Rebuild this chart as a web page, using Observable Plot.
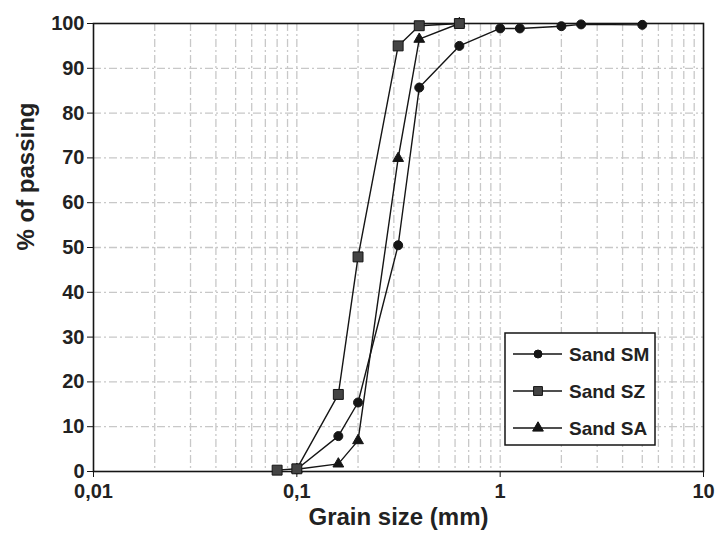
<!DOCTYPE html>
<html><head><meta charset="utf-8">
<script src="https://cdn.jsdelivr.net/npm/d3@7"></script>
<script src="https://cdn.jsdelivr.net/npm/@observablehq/plot@0.6"></script>
<style>
body{margin:0;background:#fff;}
#chart svg{font-family:"Liberation Sans",Arial,Helvetica,sans-serif;}
</style>
</head><body><div id="chart"></div>
<script>
// ---- data ----
const seriesNames = ["Sand SM", "Sand SZ", "Sand SA"];
const smSize = [0.1, 0.16, 0.2, 0.315, 0.4, 0.63, 1.0, 1.25, 2.0, 2.5, 5.0];
const smPass = [0.5, 7.9, 15.4, 50.5, 85.7, 95.0, 98.9, 98.9, 99.4, 99.8, 99.7];
const szSize = [0.08, 0.1, 0.16, 0.2, 0.315, 0.4, 0.63];
const szPass = [0.3, 0.6, 17.2, 47.9, 95.0, 99.5, 100];
const saSize = [0.1, 0.16, 0.2, 0.315, 0.4, 0.63];
const saPass = [0.5, 1.7, 6.9, 69.9, 96.5, 100];
const xTicks = [0.01, 0.1, 1, 10];
const yTicks = [0, 10, 20, 30, 40, 50, 60, 70, 80, 90, 100];
const xTitle = "Grain size (mm)";
const yTitle = "% of passing";

const toRows = (name, sz, ps) => sz.map((s, i) => ({series: name, size: s, pass: ps[i]}));
const sm = toRows(seriesNames[0], smSize, smPass);
const sz = toRows(seriesNames[1], szSize, szPass);
const sa = toRows(seriesNames[2], saSize, saPass);
const rows = [...sm, ...sz, ...sa];

// grid positions: every 1..9 multiple within each decade
const gridX = [];
for (const d of xTicks.slice(0, -1)) for (let k = 1; k <= 9; k++) if (!(d === 0.01 && k === 1)) gridX.push(d * k);
const gridY = yTicks.slice(1, -1);

const ink = "#151515";
const legendMarks = [
  {name: seriesNames[0], symbol: d3.symbolCircle, size: Math.PI * 4 * 4, fill: ink},
  {name: seriesNames[1], symbol: d3.symbolSquare, size: Math.PI * 5 * 5, fill: "#444"},
  {name: seriesNames[2], symbol: d3.symbolTriangle, size: Math.PI * 4 * 4, fill: ink}
];

function legend(index, scales, values, dims) {
  const right = dims.width - dims.marginRight - 48;
  const bottom = dims.height - dims.marginBottom - 26;
  const w = 150, h = 112;
  const x0 = right - w, y0 = bottom - h;
  const g = d3.create("svg:g");
  g.append("rect").attr("x", x0).attr("y", y0).attr("width", w).attr("height", h)
    .attr("fill", "white").attr("stroke", ink).attr("stroke-width", 1.5);
  legendMarks.forEach((m, i) => {
    const cy = y0 + 21 + i * 37;
    g.append("line").attr("x1", x0 + 8).attr("x2", x0 + 57).attr("y1", cy).attr("y2", cy)
      .attr("stroke", ink).attr("stroke-width", 1.3);
    g.append("path").attr("d", d3.symbol(m.symbol, m.size)())
      .attr("transform", `translate(${x0 + 33},${cy})`)
      .attr("fill", m.fill).attr("stroke", ink).attr("stroke-width", 1);
    g.append("text").attr("x", x0 + 64).attr("y", cy).attr("dy", "0.35em")
      .style("text-anchor", "start").style("font-size", "19px").style("font-weight", "bold")
      .style("fill", "#222").text(m.name);
  });
  return g.node();
}

const gridStyle = {stroke: "#c8c8c8", strokeWidth: 1.3, strokeDasharray: "8,3,2,3"};

const chart = Plot.plot({
  width: 717, height: 540,
  marginLeft: 93, marginRight: 14, marginTop: 23, marginBottom: 69,
  style: {background: "white", color: "#222", fontFamily: "Liberation Sans, Arial, sans-serif"},
  x: {type: "log", domain: [0.01, 10]},
  y: {domain: [0, 100]},
  marks: [
    Plot.ruleX(gridX, gridStyle),
    Plot.ruleY(gridY, gridStyle),
    Plot.line(rows, {x: "size", y: "pass", z: "series", stroke: ink, strokeWidth: 1.4}),
    Plot.frame({stroke: ink, strokeWidth: 1.6}),
    Plot.axisX({ticks: xTicks, tickFormat: d => String(d).replace(".", ","), tickSize: 6, tickPadding: 6,
      fontSize: 20, fontWeight: "bold", label: null, stroke: ink}),
    Plot.axisY({ticks: yTicks, tickSize: 6, tickPadding: 3, fontSize: 20, fontWeight: "bold", label: null, stroke: ink}),
    Plot.dot(sa, {x: "size", y: "pass", symbol: "triangle", r: 4, fill: ink, stroke: ink, strokeWidth: 1}),
    Plot.dot(sm, {x: "size", y: "pass", symbol: "circle", r: 4.5, fill: ink, stroke: ink, strokeWidth: 1}),
    Plot.dot(sz, {x: "size", y: "pass", symbol: "square", r: 5.6, fill: "#444", stroke: ink, strokeWidth: 1}),
    Plot.text([xTitle], {frameAnchor: "bottom", dy: 53, fontSize: 24, fontWeight: "bold", fill: "#222"}),
    Plot.text([yTitle], {frameAnchor: "left", dx: -67, dy: 3, rotate: -90, fontSize: 24, fontWeight: "bold", fill: "#222"}),
    legend
  ]
});
document.getElementById("chart").appendChild(chart);
</script>
</body></html>
